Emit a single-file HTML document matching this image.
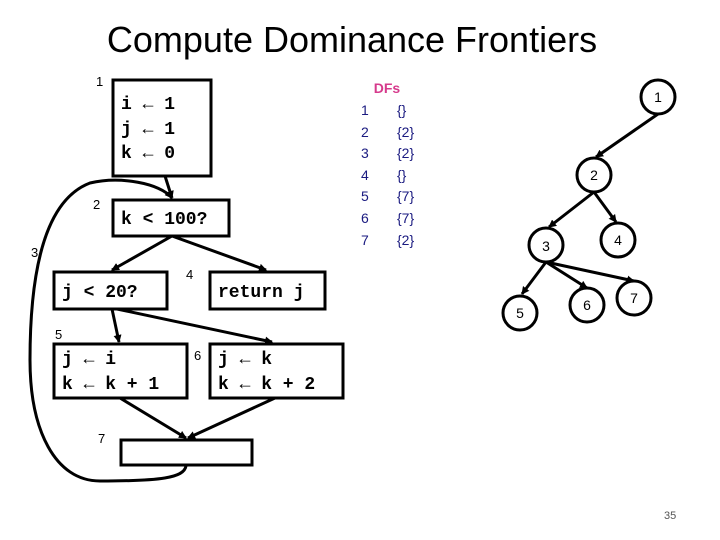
<!DOCTYPE html>
<html><head><style>
body{margin:0;width:720px;height:540px;background:#fff;overflow:hidden;position:relative}
</style></head><body>
<svg width="720" height="540" xmlns="http://www.w3.org/2000/svg" style="position:absolute;left:0;top:0">
<defs><marker id="a" markerWidth="8" markerHeight="8" refX="7" refY="4" orient="auto" markerUnits="userSpaceOnUse"><path d="M0,0 L8,4 L0,8 z" fill="#000"/></marker></defs>
<text x="352" y="52" font-family="Liberation Sans, sans-serif" font-size="36" text-anchor="middle" fill="#000">Compute Dominance Frontiers</text>
<g fill="none" stroke="#000" stroke-width="3">
<rect x="113" y="80" width="98" height="96"/>
<rect x="113" y="200" width="116" height="36"/>
<rect x="54" y="272" width="113" height="37"/>
<rect x="210" y="272" width="115" height="37"/>
<rect x="54" y="344" width="133" height="54"/>
<rect x="210" y="344" width="133" height="54"/>
<rect x="121" y="440" width="131" height="25"/>
<g marker-end="url(#a)">
<line x1="165" y1="176" x2="172" y2="198"/>
<line x1="172" y1="236" x2="112" y2="270"/>
<line x1="172" y1="236" x2="266" y2="270"/>
<line x1="112" y1="309" x2="119" y2="342"/>
<line x1="117" y1="309" x2="272" y2="342"/>
<line x1="120" y1="398" x2="186" y2="438"/>
<line x1="275" y1="398" x2="188" y2="438"/>
<path d="M186,466 C184,478 160,481 100,481 C55,481 30,430 30,360 C30,270 45,200 90,183 C120,176 160,183 172,198"/>
<line x1="658" y1="114" x2="596" y2="157"/>
<line x1="594" y1="192" x2="549" y2="227"/>
<line x1="594" y1="192" x2="616" y2="222"/>
<line x1="546" y1="262" x2="522" y2="294"/>
<line x1="546" y1="262" x2="587" y2="288"/>
<line x1="546" y1="262" x2="634" y2="281"/>
</g>
<circle cx="658" cy="97" r="17"/>
<circle cx="594" cy="175" r="17"/>
<circle cx="546" cy="245" r="17"/>
<circle cx="618" cy="240" r="17"/>
<circle cx="520" cy="313" r="17"/>
<circle cx="587" cy="305" r="17"/>
<circle cx="634" cy="298" r="17"/>
</g>
<g font-family="Liberation Mono, monospace" font-size="18" font-weight="bold" fill="#000">
<text x="121" y="109">i ← 1</text>
<text x="121" y="134">j ← 1</text>
<text x="121" y="158">k ← 0</text>
<text x="121" y="224">k &lt; 100?</text>
<text x="62" y="297">j &lt; 20?</text>
<text x="218" y="297">return j</text>
<text x="62" y="364">j ← i</text>
<text x="62" y="389">k ← k + 1</text>
<text x="218" y="364">j ← k</text>
<text x="218" y="389">k ← k + 2</text>
</g>
<g font-family="Liberation Sans, sans-serif" font-size="13" fill="#000">
<text x="96" y="86">1</text><text x="93" y="209">2</text><text x="31" y="257">3</text>
<text x="186" y="279">4</text><text x="55" y="339">5</text><text x="194" y="360">6</text><text x="98" y="443">7</text>
</g>
<g font-family="Liberation Sans, sans-serif" font-size="14" fill="#000" text-anchor="middle">
<text x="658" y="102">1</text><text x="594" y="180">2</text><text x="546" y="251">3</text><text x="618" y="245">4</text>
<text x="520" y="318">5</text><text x="587" y="310">6</text><text x="634" y="303">7</text>
</g>
<text x="387" y="93" font-family="Liberation Sans, sans-serif" font-size="14" font-weight="bold" fill="#d63a8c" text-anchor="middle">DFs</text>
<g font-family="Liberation Sans, sans-serif" font-size="14" fill="#1a1a80">
<text x="361" y="115">1</text><text x="397" y="115">{}</text>
<text x="361" y="137">2</text><text x="397" y="137">{2}</text>
<text x="361" y="158">3</text><text x="397" y="158">{2}</text>
<text x="361" y="180">4</text><text x="397" y="180">{}</text>
<text x="361" y="201">5</text><text x="397" y="201">{7}</text>
<text x="361" y="223">6</text><text x="397" y="223">{7}</text>
<text x="361" y="245">7</text><text x="397" y="245">{2}</text>
</g>
<text x="664" y="519" font-family="Liberation Sans, sans-serif" font-size="11" fill="#555">35</text>
</svg>
</body></html>
